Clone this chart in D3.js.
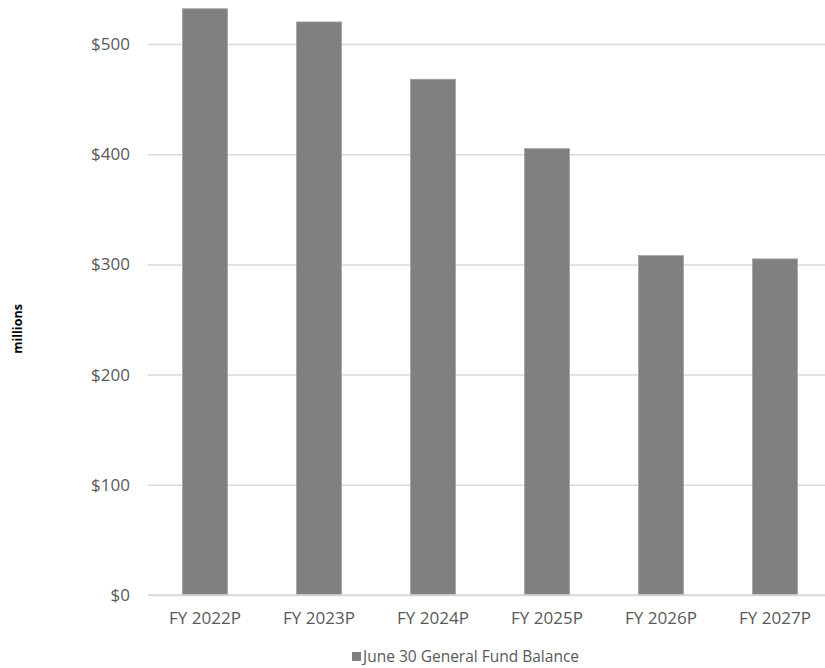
<!DOCTYPE html>
<html>
<head>
<meta charset="utf-8">
<script src="https://cdn.jsdelivr.net/npm/d3@7"></script>
<style>
  html, body { margin: 0; padding: 0; background: #fff; }
  svg { display: block; }
  text { font-family: "Open Sans", "Liberation Sans", sans-serif; }
</style>
</head>
<body>
<svg id="chart" width="825" height="668"></svg>
<script>
// Fiscal years and projected June 30 general fund balances ($ millions)
const categories = ["FY 2022P", "FY 2023P", "FY 2024P", "FY 2025P", "FY 2026P", "FY 2027P"];
const balances = [532, 520, 468, 405, 308, 305];
const yTicks = [0, 100, 200, 300, 400, 500];
const seriesName = "June 30 General Fund Balance";
const axisTitle = "millions";

const svg = d3.select("#chart");
const textColor = "#595959";
const gridColor = "#d9d9d9";
const barColor = "#808080";

const x = d3.scaleBand()
  .domain(categories)
  .range([148, 832])
  .paddingInner(0.605)
  .paddingOuter(0.3025);

const y = d3.scaleLinear()
  .domain([0, 500])
  .range([595, 44]);

// Horizontal gridlines
const yAxis = d3.axisLeft(y)
  .tickValues(yTicks)
  .tickSize(-(825 - 148))
  .tickPadding(18)
  .tickFormat(d => "$" + d);

const gy = svg.append("g")
  .attr("transform", "translate(148,0)")
  .call(yAxis);
gy.select(".domain").remove();
gy.selectAll(".tick line")
  .attr("stroke", gridColor)
  .attr("stroke-width", 1.5);
gy.selectAll(".tick text")
  .attr("fill", textColor)
  .attr("font-size", 17);

// Bars
svg.append("g")
  .selectAll("rect")
  .data(balances)
  .join("rect")
  .attr("x", (d, i) => x(categories[i]))
  .attr("y", d => y(d))
  .attr("width", x.bandwidth())
  .attr("height", d => y(0) - y(d))
  .attr("fill", barColor)
  .attr("stroke", "#a0a0a0")
  .attr("stroke-width", 0.75);

// Category axis
const xAxis = d3.axisBottom(x).tickSize(0).tickPadding(17);
const gx = svg.append("g")
  .attr("transform", `translate(0,${y(0)})`)
  .call(xAxis);
gx.select(".domain").attr("stroke", gridColor).attr("stroke-width", 1.5)
  .attr("d", `M148,0H825`);
gx.selectAll(".tick text")
  .attr("fill", textColor)
  .attr("font-size", 17);

// Axis title
svg.append("text")
  .attr("transform", "translate(22,329) rotate(-90)")
  .attr("text-anchor", "middle")
  .attr("font-size", 12.5)
  .attr("font-weight", "bold")
  .attr("fill", "#000")
  .text(axisTitle);

// Legend
const legend = svg.append("g").attr("transform", "translate(352,657)");
legend.append("rect")
  .attr("x", 0).attr("y", -5)
  .attr("width", 9).attr("height", 9)
  .attr("fill", barColor);
legend.append("text")
  .attr("x", 11)
  .attr("y", 0)
  .attr("dy", "0.35em")
  .attr("font-size", 15.5)
  .attr("fill", textColor)
  .text(seriesName);
</script>
</body>
</html>
